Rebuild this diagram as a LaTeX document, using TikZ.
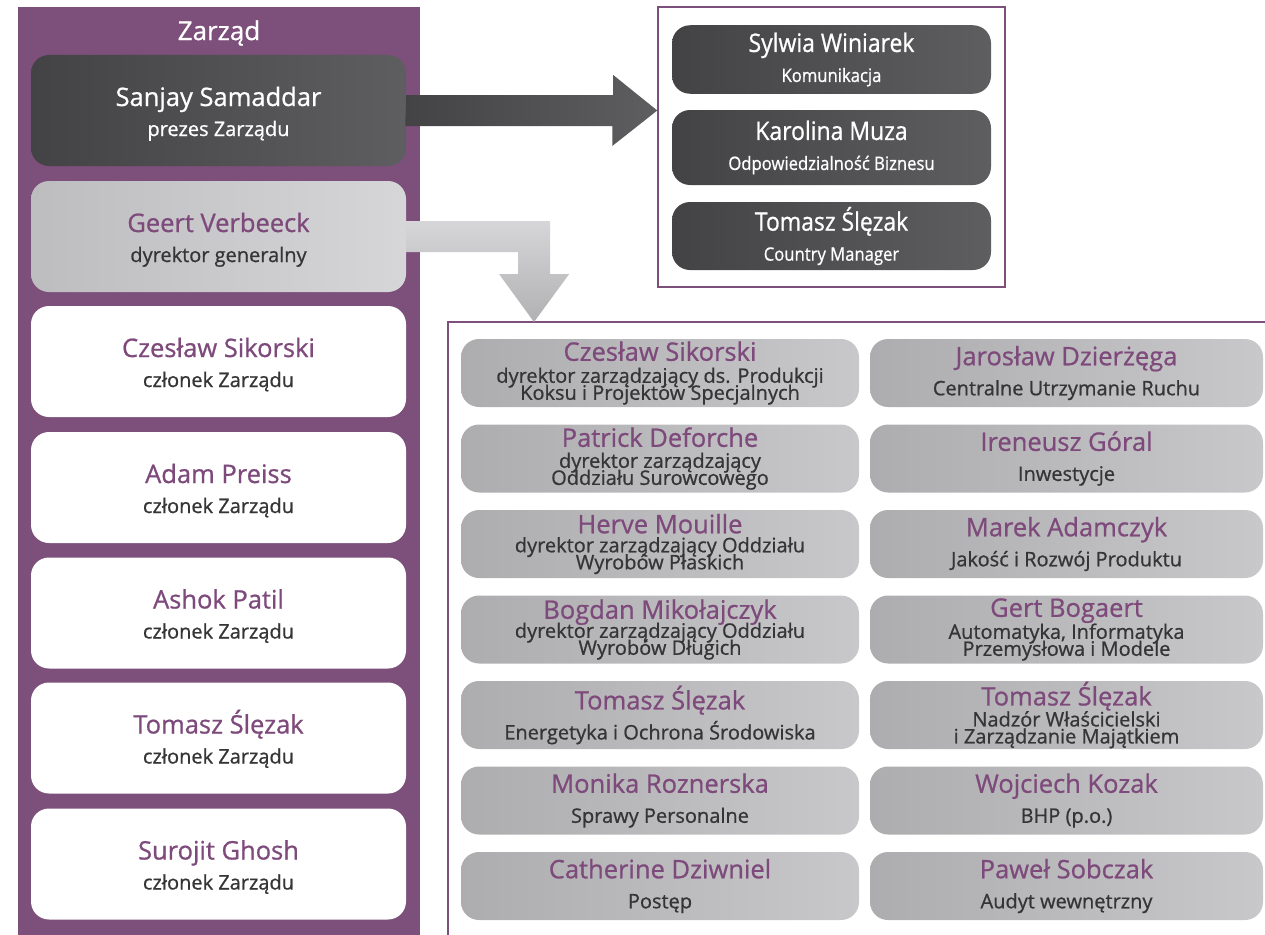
\documentclass[tikz,border=0pt]{standalone}
\usepackage{fontspec}
\setmainfont{Open Sans}[FakeBold=0.8]
\newfontfamily\waski[FakeStretch=0.9,FakeBold=0.8]{Open Sans}
\definecolor{fiolet}{HTML}{7D4F7B}
\definecolor{nazwisko}{HTML}{7E4A7C}
\definecolor{tekst}{HTML}{353537}
\definecolor{ciemnyA}{HTML}{434345}
\definecolor{ciemnyB}{HTML}{5E5E60}
\definecolor{jasnyA}{HTML}{BDBDBF}
\definecolor{jasnyB}{HTML}{D6D6D8}
\definecolor{szaryA}{HTML}{ADADAF}
\definecolor{szaryB}{HTML}{C8C8CA}
\newcommand{\duzy}[1]{{\fontsize{25.5}{30}\selectfont #1}}
\newcommand{\osoba}[1]{{\fontsize{25.5}{30}\selectfont\color{nazwisko}#1}}
\begin{document}
\begin{tikzpicture}[x=1pt,y=-1pt,
	ramka/.style={draw=fiolet,line width=1.5pt},
	kafel/.style={rounded corners=18pt,inner sep=0pt,align=center,font=\fontsize{20}{30}\selectfont},
	zarzad/.style={kafel,minimum width=375pt,minimum height=111pt,text height=57pt,text depth=6pt},
	ciemny/.style={left color=ciemnyA,right color=ciemnyB,text=white},
	jasny/.style={left color=jasnyA,right color=jasnyB,text=tekst},
	bialy/.style={fill=white,text=tekst},
	biuro/.style={kafel,minimum width=319pt,left color=ciemnyA,right color=ciemnyB,text=white,font=\waski\fontsize{18.5}{30}\selectfont},
	dzial/.style={kafel,minimum height=68pt,left color=szaryA,right color=szaryB,text=tekst},
	lewa/.style={dzial,minimum width=398pt},
	prawa/.style={dzial,minimum width=393pt}]
	\useasboundingbox (0,0) rectangle (1265,934);
	% panel zarzadu
	\fill[fiolet] (18,7) rectangle (420,940);
	\node[text=white,font=\fontsize{26}{30}\selectfont] (tytul) at (219,33) {Zarząd};
	\node[zarzad,ciemny] (prezes) at (218.5,110.5) {\duzy{Sanjay Samaddar}\\prezes Zarządu};
	\node[zarzad,jasny] (dyrektor) at (218.5,236.5) {\osoba{Geert Verbeeck}\\dyrektor generalny};
	\node[zarzad,bialy] (czlonekA) at (218.5,361.5) {\osoba{Czesław Sikorski}\\członek Zarządu};
	\node[zarzad,bialy] (czlonekB) at (218.5,487.5) {\osoba{Adam Preiss}\\członek Zarządu};
	\node[zarzad,bialy] (czlonekC) at (218.5,613) {\osoba{Ashok Patil}\\członek Zarządu};
	\node[zarzad,bialy] (czlonekD) at (218.5,738) {\osoba{Tomasz Ślęzak}\\członek Zarządu};
	\node[zarzad,bialy] (czlonekE) at (218.5,864) {\osoba{Surojit Ghosh}\\członek Zarządu};
	% biura prezesa
	\node[ramka,minimum width=347pt,minimum height=280pt] (zespol) at (831.5,147) {};
	\node[biuro,minimum height=68.5pt] (biuroA) at (831.5,59.5) {\duzy{Sylwia Winiarek}\\Komunikacja};
	\node[biuro,minimum height=75pt] (biuroB) at (831.5,147.5) {\duzy{Karolina Muza}\\Odpowiedzialność Biznesu};
	\node[biuro,minimum height=68pt] (biuroC) at (831.5,236) {\duzy{Tomasz Ślęzak}\\Country Manager};
	% piony dyrektora
	\draw[ramka] (448,950) |- (1280,322);
	\coordinate (dol) at (534,322);
	\node[lewa] (pionA) at (660,373) {\osoba{Czesław Sikorski}\\[-8pt]dyrektor zarządzający ds. Produkcji\\[-13pt]Koksu i Projektów Specjalnych};
	\node[lewa] (pionB) at (660,458.5) {\osoba{Patrick Deforche}\\[-9pt]dyrektor zarządzający\\[-13pt]Oddziału Surowcowego};
	\node[lewa] (pionC) at (660,544) {\osoba{Herve Mouille}\\[-11pt]dyrektor zarządzający Oddziału\\[-13pt]Wyrobów Płaskich};
	\node[lewa] (pionD) at (660,629.5) {\osoba{Bogdan Mikołajczyk}\\[-11pt]dyrektor zarządzający Oddziału\\[-13pt]Wyrobów Długich};
	\node[lewa] (pionE) at (660,715) {\osoba{Tomasz Ślęzak}\\Energetyka i Ochrona Środowiska};
	\node[lewa] (pionF) at (660,800.5) {\osoba{Monika Roznerska}\\Sprawy Personalne};
	\node[lewa] (pionG) at (660,886) {\osoba{Catherine Dziwniel}\\Postęp};
	\node[prawa] (pionH) at (1066.5,373) {\osoba{Jarosław Dzierżęga}\\Centralne Utrzymanie Ruchu};
	\node[prawa] (pionI) at (1066.5,458.5) {\osoba{Ireneusz Góral}\\Inwestycje};
	\node[prawa] (pionJ) at (1066.5,544) {\osoba{Marek Adamczyk}\\Jakość i Rozwój Produktu};
	\node[prawa] (pionK) at (1066.5,629.5) {\osoba{Gert Bogaert}\\[-8pt]Automatyka, Informatyka\\[-13pt]Przemysłowa i Modele};
	\node[prawa] (pionL) at (1066.5,715) {\osoba{Tomasz Ślęzak}\\[-9pt]Nadzór Właścicielski\\[-13pt]i Zarządzanie Majątkiem};
	\node[prawa] (pionM) at (1066.5,800.5) {\osoba{Wojciech Kozak}\\BHP (p.o.)};
	\node[prawa] (pionN) at (1066.5,886) {\osoba{Paweł Sobczak}\\Audyt wewnętrzny};
	% strzalki
	\path[left color=ciemnyA,right color=ciemnyB] (prezes.east) ++(0,-15.5) -- ++(207,0) -- ++(0,-20)
		-- (prezes.east -| zespol.west) -- ++(-45,35.5) -- ++(0,-20) -- ++(-207,0) -- cycle;
	\path[top color=jasnyB,bottom color=szaryA!95] (dyrektor.east) ++(0,-15.5) -- ++(144,0) -- ++(0,53) -- ++(19,0)
		-- (dol) -- ++(-35,-48) -- ++(19,0) -- ++(0,-22) -- ++(-112,0) -- cycle;
\end{tikzpicture}
\end{document}
